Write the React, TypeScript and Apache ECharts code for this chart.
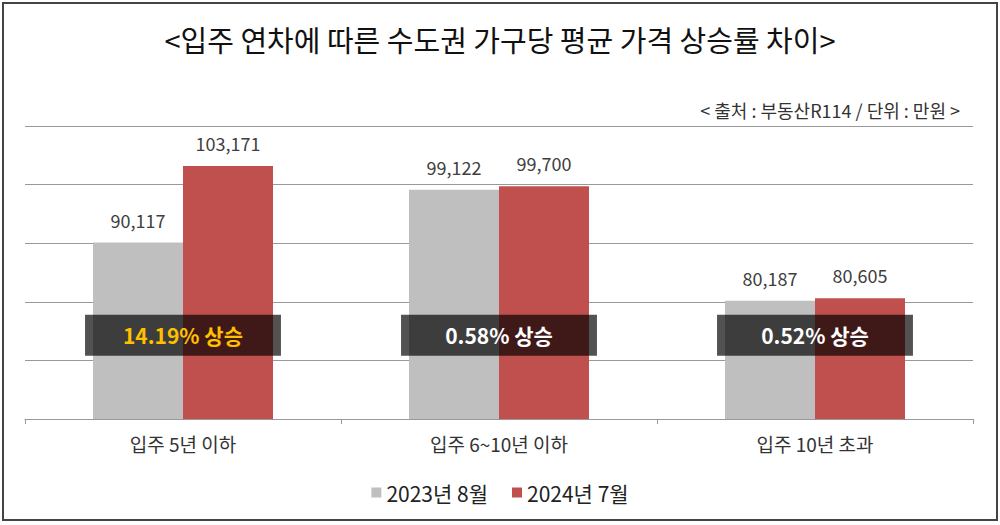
import React, { useEffect, useRef } from "react";
import * as echarts from "echarts";

const categories = ["입주 5년 이하", "입주 6~10년 이하", "입주 10년 초과"];
const series2023 = [90117, 99122, 80187];
const series2024 = [103171, 99700, 80605];
const seriesNames = ["2023년 8월", "2024년 7월"];
const rateLabels = ["14.19% 상승", "0.58% 상승", "0.52% 상승"];
const rateColors = ["#ffc000", "#ffffff", "#ffffff"];
const rateBoxValue = [74300, 74300, 74300];

const FONT = '"Noto Sans CJK KR", "Noto Sans", sans-serif';

export default function App() {
  const ref = useRef<HTMLDivElement>(null);
  useEffect(() => {
    document.body.style.margin = "0";
    const chart = echarts.init(ref.current!, null, { renderer: "svg" });
    const fmt = (v: number) => v.toLocaleString("en-US");
    chart.setOption({
      animation: false,
      backgroundColor: "#ffffff",
      textStyle: { fontFamily: FONT },
      title: {
        text: "<입주 연차에 따른 수도권 가구당 평균 가격 상승률 차이>",
        left: "center",
        top: 19,
        textStyle: { fontSize: 29, fontWeight: "normal", color: "#111", fontFamily: FONT },
      },
      graphic: [
        {
          type: "rect",
          shape: { x: 3, y: 3, width: 994, height: 517 },
          style: { fill: "none", stroke: "#444", lineWidth: 2 },
          silent: true,
        },
        {
          type: "text",
          style: {
            text: "< 출처 : 부동산R114 / 단위 : 만원 >",
            x: 960,
            y: 110,
            align: "right",
            verticalAlign: "middle",
            fontSize: 18,
            fill: "#333",
            fontFamily: FONT,
          },
        },
      ],
      legend: {
        data: seriesNames,
        top: 477,
        left: "center",
        icon: "rect",
        itemWidth: 10,
        itemHeight: 10,
        itemGap: 24,
        textStyle: { fontSize: 21, color: "#222", fontFamily: FONT },
      },
      grid: { left: 25, right: 27, top: 126, bottom: 106 },
      xAxis: {
        type: "category",
        data: categories,
        axisLine: { lineStyle: { color: "#999" } },
        axisTick: { show: true, length: 5, lineStyle: { color: "#999" } },
        axisLabel: { fontSize: 19, color: "#333", margin: 15, fontFamily: FONT },
      },
      yAxis: {
        type: "value",
        min: 60000,
        max: 110000,
        interval: 10000,
        axisLabel: { show: false },
        axisLine: { show: false },
        axisTick: { show: false },
        splitLine: { lineStyle: { color: "#999", width: 1 } },
      },
      series: [
        {
          name: seriesNames[0],
          type: "bar",
          data: series2023,
          barWidth: 90,
          barGap: "0%",
          itemStyle: { color: "#bfbfbf" },
          label: {
            show: true,
            position: "top",
            distance: 14,
            fontSize: 18,
            color: "#404040",
            fontFamily: FONT,
            formatter: (p: any) => fmt(p.value),
          },
        },
        {
          name: seriesNames[1],
          type: "bar",
          data: series2024,
          barWidth: 90,
          barGap: "0%",
          itemStyle: { color: "#c0504d" },
          label: {
            show: true,
            position: "top",
            distance: 14,
            fontSize: 18,
            color: "#404040",
            fontFamily: FONT,
            formatter: (p: any) => fmt(p.value),
          },
        },
        {
          type: "custom",
          z: 10,
          data: rateBoxValue.map((v, i) => [i, v]),
          encode: { x: 0, y: 1 },
          renderItem: (params: any, api: any) => {
            const i = api.value(0);
            const c = api.coord([i, api.value(1)]);
            const w = api.size([1, 0])[0] * 0.62;
            return {
              type: "group",
              children: [
                {
                  type: "rect",
                  shape: { x: c[0] - w / 2, y: c[1] - 20.5, width: w, height: 41 },
                  style: { fill: "rgba(0,0,0,0.68)" },
                },
                {
                  type: "text",
                  style: {
                    text: rateLabels[params.dataIndex],
                    x: c[0],
                    y: c[1],
                    align: "center",
                    verticalAlign: "middle",
                    fill: rateColors[params.dataIndex],
                    fontSize: 21,
                    fontWeight: "bold",
                    fontFamily: FONT,
                  },
                },
              ],
            };
          },
        },
      ],
    });
    return () => chart.dispose();
  }, []);
  return (
    <div
      ref={ref}
      style={{ position: "absolute", left: 0, top: 0, width: 1000, height: 525 }}
    />
  );
}
